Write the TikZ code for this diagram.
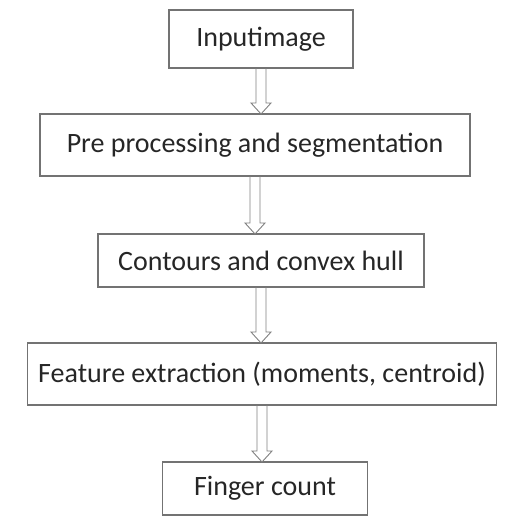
\documentclass[tikz,border=0pt]{standalone}
\usepackage{fontspec}
\setmainfont{Carlito}
\usetikzlibrary{positioning, calc}

\tikzset{
  box/.style={draw=black!55, line width=1.1pt, rectangle, inner sep=2pt, outer sep=0pt,
              text=black!85, font=\fontsize{28}{33}\selectfont},
  flow/.style={draw=black!50, line width=0.9pt, line join=miter}
}

% hollow block arrow from one box down to the next
\newcommand{\flowarrow}[2]{%
  \draw[flow] ($(#1.south)+(-5pt,0)$) -- ($(#1.south |- #2.north)+(-5pt,11pt)$)
     -- ($(#1.south |- #2.north)+(-10pt,11pt)$) -- (#1.south |- #2.north)
     -- ($(#1.south |- #2.north)+(10pt,11pt)$) -- ($(#1.south |- #2.north)+(5pt,11pt)$)
     -- ($(#1.south)+(5pt,0)$);
}

\begin{document}
\begin{tikzpicture}[node distance=2cm]

   \useasboundingbox (0,0) rectangle (507pt,-518pt);

   \node[box, minimum width=184pt, minimum height=58pt] (input) at (261pt,-39pt) {Inputimage};
   \node[box, minimum width=430pt, minimum height=62pt, below=46pt of input, xshift=-6pt] (prep)
        {Pre processing and segmentation};
   \node[box, minimum width=326pt, minimum height=53pt, below=58pt of prep, xshift=6pt] (hull)
        {Contours and convex hull};
   \node[box, minimum width=469pt, minimum height=62pt, below=56pt of hull, xshift=1pt] (feat)
        {Feature extraction (moments, centroid)};
   \node[box, minimum width=205pt, minimum height=53pt, below=57pt of feat, xshift=3pt] (count)
        {Finger count};

   \flowarrow{input}{prep}
   \flowarrow{prep}{hull}
   \flowarrow{hull}{feat}
   \flowarrow{feat}{count}

\end{tikzpicture}
\end{document}
